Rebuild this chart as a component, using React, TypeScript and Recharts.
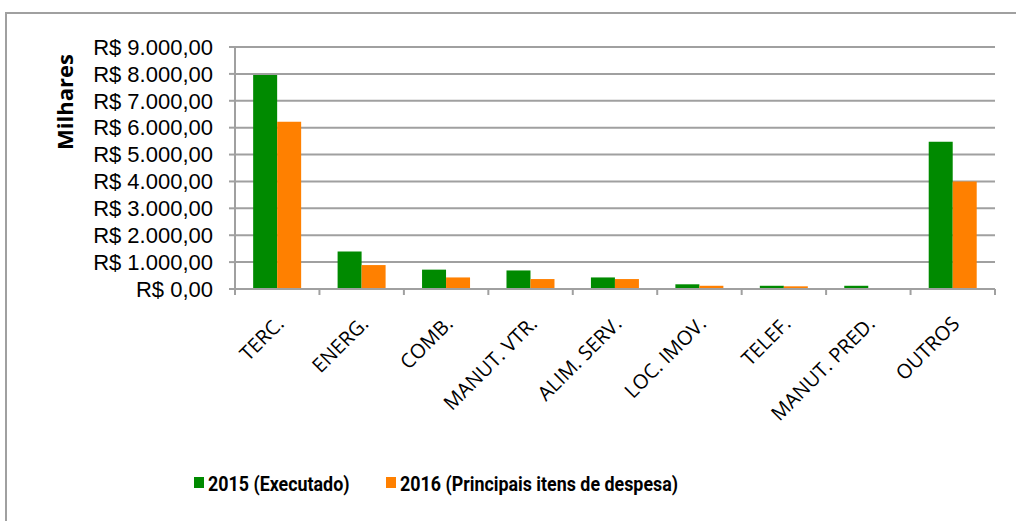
import { BarChart, Bar, XAxis, YAxis, CartesianGrid } from 'recharts'

// categorias de despesa
const categories = [
  'TERC.',
  'ENERG.',
  'COMB.',
  'MANUT. VTR.',
  'ALIM. SERV.',
  'LOC. IMOV.',
  'TELEF.',
  'MANUT. PRED.',
  'OUTROS',
]

// valores em milhares de R$
const executado2015 = [7960, 1390, 720, 690, 430, 175, 120, 120, 5480]
const previsto2016 = [6220, 890, 430, 370, 370, 120, 100, 0, 4000]

const yTicks = [0, 1000, 2000, 3000, 4000, 5000, 6000, 7000, 8000, 9000]

const series = [
  { key: 'v2015', name: '2015 (Executado)', color: '#008a00', legendX: 194 },
  { key: 'v2016', name: '2016 (Principais itens de despesa)', color: '#ff8000', legendX: 386 },
]

const data = categories.map((name, i) => ({
  name,
  v2015: executado2015[i],
  v2016: previsto2016[i],
}))

const WIDTH = 1016
const HEIGHT = 521
const MARGIN = { top: 47, right: 21, left: 0, bottom: 102 }
const Y_AXIS_W = 235
const PLOT_W = WIDTH - MARGIN.left - MARGIN.right - Y_AXIS_W
const BAND = PLOT_W / categories.length
const AXIS_COLOR = '#a0a0a0'

// formata no padrão brasileiro: R$ 9.000,00
const formatBRL = (v: number): string => {
  const inteiro = Math.floor(v)
    .toString()
    .replace(/\B(?=(\d{3})+(?!\d))/g, '.')
  return `R$ ${inteiro},00`
}

const CategoryTick = (props: any) => {
  const { x, y, payload, index } = props
  const axisY = y - 8
  return (
    <g>
      <line x1={x - BAND / 2} y1={axisY} x2={x - BAND / 2} y2={axisY + 6} stroke={AXIS_COLOR} strokeWidth={2} />
      {index === categories.length - 1 && (
        <line x1={x + BAND / 2} y1={axisY} x2={x + BAND / 2} y2={axisY + 6} stroke={AXIS_COLOR} strokeWidth={2} />
      )}
      <text
        x={x + 8}
        y={y + 28}
        transform={`rotate(-45, ${x + 8}, ${y + 28})`}
        textAnchor="end"
        fill="#000"
        fontSize={20}
        fontFamily="'Open Sans', sans-serif"
      >
        {payload.value}
      </text>
    </g>
  )
}

const YLabel = (props: any) => {
  const vb = props.viewBox || { x: 0, y: 0 }
  const cx = vb.x + 64
  const cy = vb.y + 55
  return (
    <text
      x={cx}
      y={cy}
      transform={`rotate(-90, ${cx}, ${cy})`}
      textAnchor="middle"
      dominantBaseline="central"
      fontSize={22}
      fontWeight="bold"
      fontFamily="'Open Sans', sans-serif"
      fill="#000"
    >
      Milhares
    </text>
  )
}

export default function App() {
  return (
    <div style={{ position: 'absolute', left: 0, top: 0, width: WIDTH, height: HEIGHT, background: '#fff', overflow: 'hidden' }}>
      <div
        style={{
          position: 'absolute',
          left: 5,
          top: 12,
          width: WIDTH + 20,
          height: HEIGHT + 20,
          borderLeft: `2px solid ${AXIS_COLOR}`,
          borderTop: `2px solid ${AXIS_COLOR}`,
        }}
      />
      <BarChart
        width={WIDTH}
        height={HEIGHT}
        data={data}
        margin={MARGIN}
        barCategoryGap="21.5%"
        barGap={0}
        style={{ position: 'absolute', left: 0, top: 0 }}
      >
        <CartesianGrid vertical={false} stroke={AXIS_COLOR} strokeWidth={2} />
        <XAxis
          dataKey="name"
          interval={0}
          height={130}
          tickLine={false}
          tickSize={6}
          tickMargin={2}
          axisLine={{ stroke: AXIS_COLOR, strokeWidth: 2 }}
          tick={<CategoryTick />}
        />
        <YAxis
          width={Y_AXIS_W}
          domain={[0, 9000]}
          ticks={yTicks}
          interval={0}
          tickFormatter={formatBRL}
          tickSize={6}
          tickMargin={16}
          tickLine={{ stroke: AXIS_COLOR, strokeWidth: 2 }}
          axisLine={{ stroke: AXIS_COLOR, strokeWidth: 2 }}
          tick={{ fill: '#000', fontSize: 22, fontFamily: "'Liberation Sans', sans-serif" }}
          label={<YLabel />}
        />
        {series.map((s) => (
          <Bar key={s.key} dataKey={s.key} name={s.name} fill={s.color} isAnimationActive={false} />
        ))}
      </BarChart>
      {series.map((s) => (
        <div
          key={s.key}
          style={{
            position: 'absolute',
            left: s.legendX,
            top: 472,
            display: 'flex',
            alignItems: 'flex-start',
            fontFamily: "'Roboto', sans-serif",
            fontWeight: 'bold',
            fontSize: 21,
            color: '#000',
            lineHeight: '24px',
            whiteSpace: 'nowrap',
          }}
        >
          <span style={{ width: 10, height: 11, background: s.color, marginTop: 5, marginRight: 4, flex: 'none' }} />
          <span style={{ display: 'inline-block', transform: 'scaleX(0.85)', transformOrigin: 'left center' }}>{s.name}</span>
        </div>
      ))}
    </div>
  )
}
